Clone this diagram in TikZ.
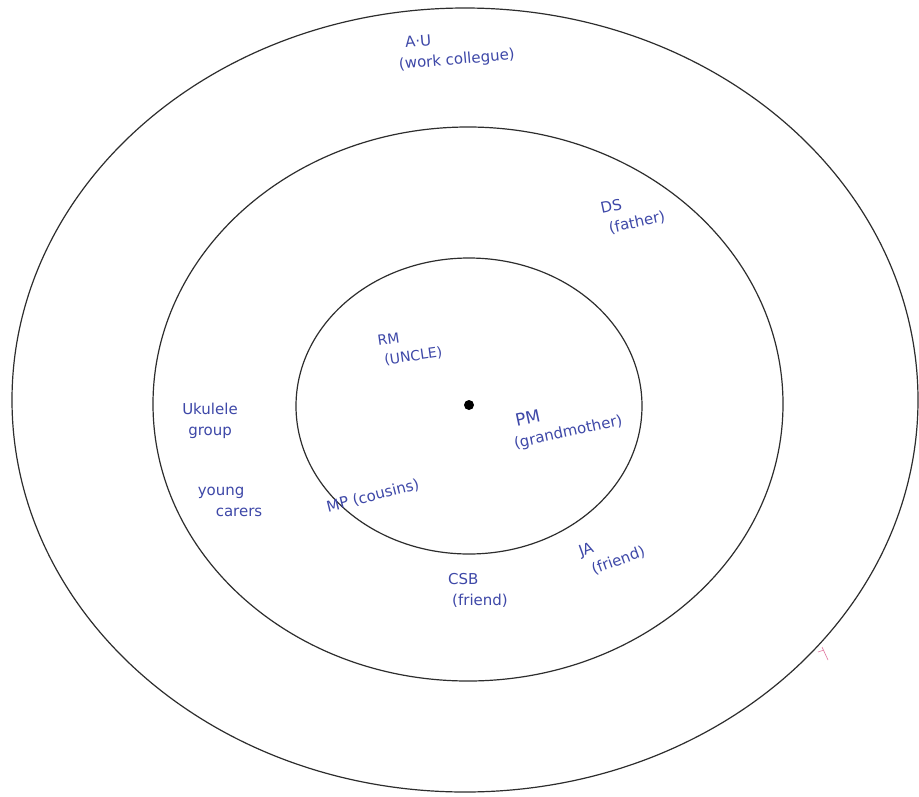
\documentclass[tikz,border=0pt]{standalone}
\usepackage{fontspec}
\setmainfont{DejaVu Sans}
\definecolor{ink}{RGB}{62,72,168}
\definecolor{ring}{RGB}{45,45,45}
\definecolor{pinkmark}{RGB}{225,120,160}
\begin{document}
\begin{tikzpicture}[x=1pt,y=-1pt,
  ringline/.style={draw=ring,line width=1.2pt},
  hand/.style={text=ink,font=\fontsize{15}{21}\selectfont,inner sep=1pt,align=left}]
\useasboundingbox (0,0) rectangle (919,796);
\fill[white] (0,0) rectangle (919,796);
% rings
\draw[ringline] (465,400) ellipse [x radius=453, y radius=392];
\draw[ringline] (468,404) ellipse [x radius=315, y radius=277];
\draw[ringline] (469,406) ellipse [x radius=173, y radius=148];
% centre
\fill[black] (469,405) circle (5);
\coordinate (centre) at (469,405);
% labels
\node[hand,rotate=5] (au) at (456,50) {\hspace*{8pt}A·U\\(work collegue)};
\node[hand,rotate=12] (ds) at (633,213) {DS\\\hspace*{4pt}(father)};
\node[hand,rotate=8,font=\fontsize{14}{20}\selectfont] (rm) at (410,347) {RM\\\hspace*{4pt}(UNCLE)};
\node[hand,rotate=12] (pm) at (566,422) {\hspace*{6pt}{\fontsize{17}{19}\selectfont PM}\\(grandmother)};
\node[hand] (uk) at (210,421) {Ukulele\\\hspace*{6pt}group};
\node[hand] (yc) at (230,502) {young\\\hspace*{18pt}carers};
\node[hand,rotate=14] (mp) at (373,496) {MP (cousins)};
\node[hand] (csb) at (478,590) {CSB\\\hspace*{4pt}(friend)};
\node[hand,rotate=20] (ja) at (612,552) {JA\\\hspace*{6pt}(friend)};
% small pink mark on outer ring
\draw[pinkmark,line width=0.6pt] (822,647) -- (828,660);
\draw[pinkmark,line width=0.6pt] (818,652) -- (824,650);
\end{tikzpicture}
\end{document}
